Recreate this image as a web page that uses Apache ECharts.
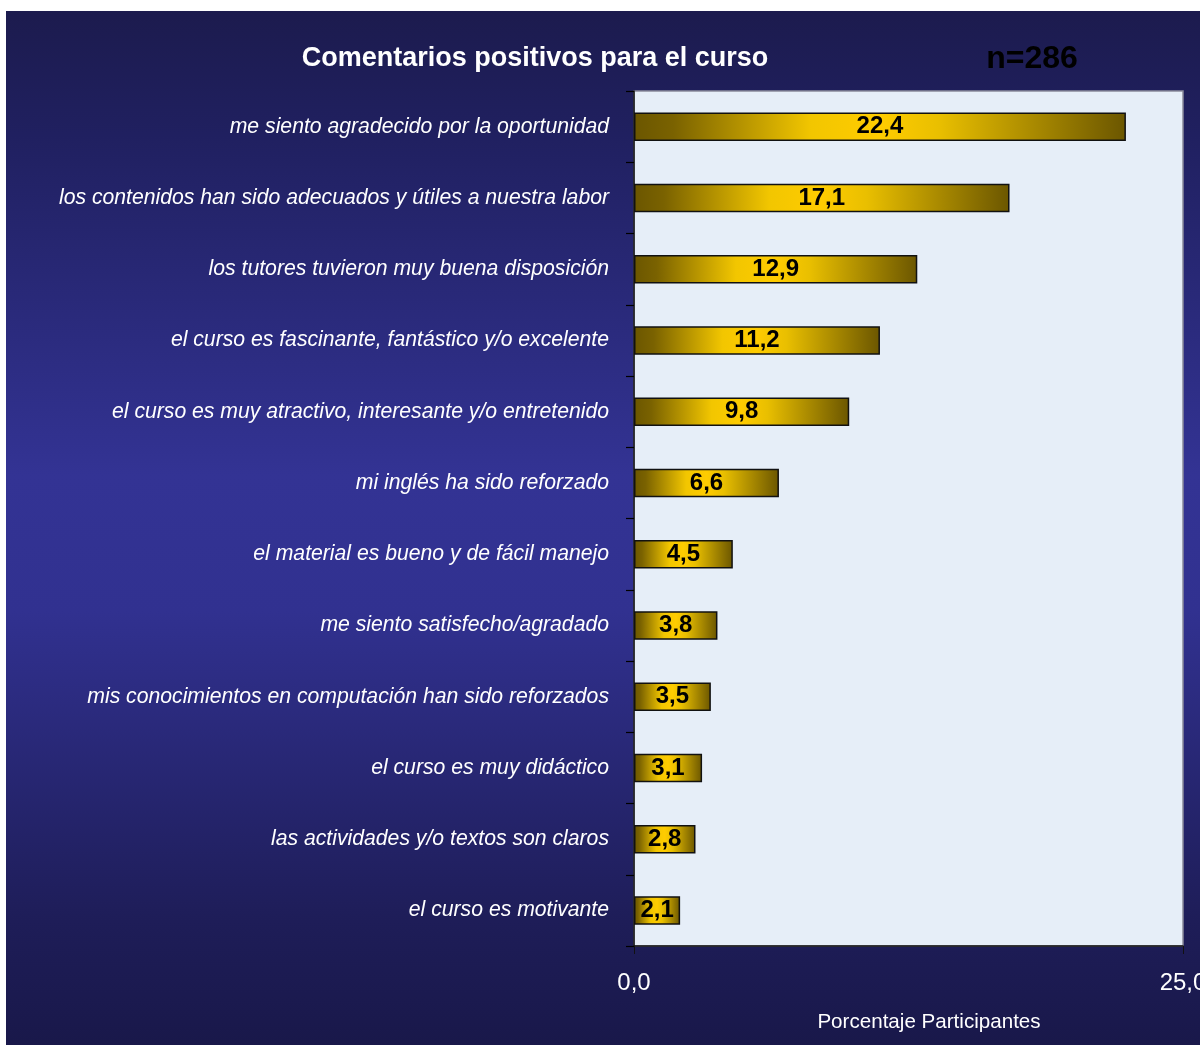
<!DOCTYPE html>
<html>
<head>
<meta charset="utf-8">
<title>Comentarios positivos para el curso</title>
<script src="https://cdn.jsdelivr.net/npm/echarts@6/dist/echarts.min.js"></script>
<style>
  html, body { margin: 0; padding: 0; background: #ffffff; }
  #chart { position: absolute; left: 6px; top: 11px; width: 1194px; height: 1034px; }
</style>
</head>
<body>
<div id="chart"></div>
<script>
// Comentarios (de mayor a menor) y porcentaje de participantes
const categories = [
  'me siento agradecido por la oportunidad',
  'los contenidos han sido adecuados y útiles a nuestra labor',
  'los tutores tuvieron muy buena disposición',
  'el curso es fascinante, fantástico y/o excelente',
  'el curso es muy atractivo, interesante y/o entretenido',
  'mi inglés ha sido reforzado',
  'el material es bueno y de fácil manejo',
  'me siento satisfecho/agradado',
  'mis conocimientos en computación han sido reforzados',
  'el curso es muy didáctico',
  'las actividades y/o textos son claros',
  'el curso es motivante'
];
const percentages = [22.4, 17.1, 12.9, 11.2, 9.8, 6.6, 4.5, 3.8, 3.5, 3.1, 2.8, 2.1];
const axisTicks = [0, 25];

const fmt = v => v.toFixed(1).replace('.', ',');
const font = '"Liberation Sans", Arial, sans-serif';

const chart = echarts.init(document.getElementById('chart'));

const barFill = new echarts.graphic.LinearGradient(0, 0, 1, 0, [
  { offset: 0, color: '#6b5600' },
  { offset: 0.08, color: '#7a6200' },
  { offset: 0.36, color: '#f2c600' },
  { offset: 0.5, color: '#ffcc00' },
  { offset: 0.62, color: '#e9bf00' },
  { offset: 1, color: '#6b5600' }
]);

chart.setOption({
  animation: false,
  backgroundColor: new echarts.graphic.LinearGradient(0, 0, 0, 1, [
    { offset: 0, color: '#1c1b4e' },
    { offset: 0.12, color: '#202060' },
    { offset: 0.45, color: '#333394' },
    { offset: 0.58, color: '#313190' },
    { offset: 0.88, color: '#1e1d58' },
    { offset: 1, color: '#19184a' }
  ]),
  title: [
    {
      text: 'Comentarios positivos para el curso',
      left: 529, top: 34, textAlign: 'center', padding: 0,
      textStyle: { color: '#ffffff', fontFamily: font, fontWeight: 'bold', fontSize: 27 }
    },
    {
      text: 'n=286',
      left: 1026, top: 32, textAlign: 'center', padding: 0,
      textStyle: { color: '#000000', fontFamily: font, fontWeight: 'bold', fontSize: 32 }
    }
  ],
  grid: {
    left: 628, top: 80, right: 17, bottom: 99,
    outerBoundsMode: 'none',
    show: true,
    backgroundColor: '#e6eef8',
    borderColor: '#8a8a9a',
    borderWidth: 1.5
  },
  xAxis: {
    type: 'value',
    min: axisTicks[0],
    max: axisTicks[axisTicks.length - 1],
    interval: 25,
    name: 'Porcentaje Participantes',
    nameLocation: 'middle',
    nameGap: 66,
    nameTextStyle: { color: '#ffffff', fontFamily: font, fontSize: 20.6, padding: [0, 0, 0, 41] },
    axisLine: { show: true, lineStyle: { color: '#111111', width: 1.5 } },
    axisTick: { show: true, length: 8, lineStyle: { color: '#111111' } },
    axisLabel: {
      color: '#ffffff', fontFamily: font, fontSize: 24, margin: 25,
      formatter: v => fmt(v)
    },
    splitLine: { show: false }
  },
  yAxis: {
    type: 'category',
    data: categories,
    inverse: true,
    axisLine: { show: true, lineStyle: { color: '#111111', width: 1.5 } },
    axisTick: { show: true, length: 8, inside: false, lineStyle: { color: '#000000', width: 1.2 } },
    axisLabel: {
      color: '#ffffff', fontFamily: font, fontSize: 21.2, fontStyle: 'italic', margin: 25
    }
  },
  series: [{
    type: 'bar',
    data: percentages,
    barCategoryGap: '60%',
    itemStyle: { color: barFill, borderColor: '#111111', borderWidth: 1.5 },
    label: {
      show: true,
      position: 'inside',
      color: '#000000',
      fontFamily: font,
      fontWeight: 'bold',
      fontSize: 24,
      formatter: p => fmt(p.value)
    }
  }]
});
</script>
</body>
</html>
